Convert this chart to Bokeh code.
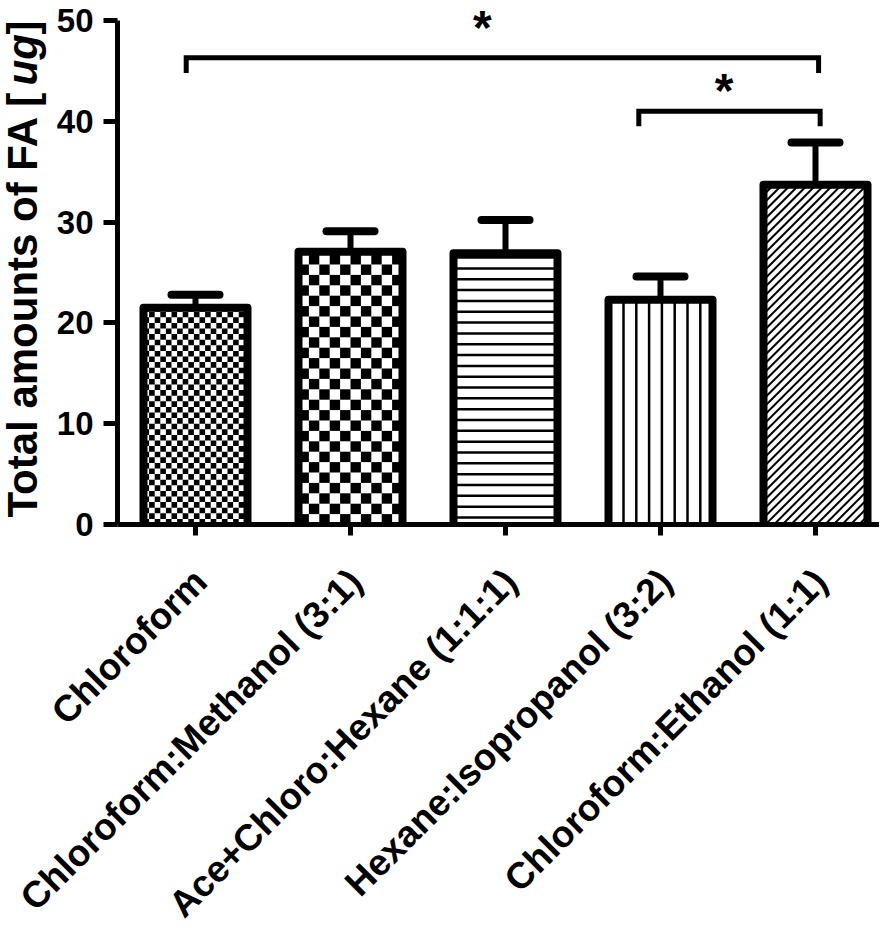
import math
from math import pi
from bokeh.plotting import figure
from bokeh.models import Range1d, FixedTicker
from bokeh.core.properties import value
from bokeh.embed import file_html
from bokeh.resources import INLINE

# ---------------- data ----------------
categories = [
    "Chloroform",
    "Chloroform:Methanol (3:1)",
    "Ace+Chloro:Hexane (1:1:1)",
    "Hexane:Isopropanol (3:2)",
    "Chloroform:Ethanol (1:1)",
]
means = [21.5, 27.05, 26.9, 22.3, 33.7]
errors = [1.3, 2.05, 3.3, 2.3, 4.2]
y_ticks = [0, 10, 20, 30, 40, 50]
y_title_parts = ["Total amounts of FA [", "ug", "]"]

# significance brackets: (bar a, bar b, bracket level, end of the drop)
comp_a = [0, 3]
comp_b = [4, 4]
comp_level = [46.3, 41.0]
comp_drop = [44.8, 39.5]
star_x = [1.85, 3.41]
star_y = [51.9, 45.7]

# ---------------- layout ----------------
W, H = 879, 931
FONT = "Liberation Sans"
X0_PX, DX_PX = 195.0, 155.0          # pixel of x=0, pixels per category
Y0_PX, Y50_PX = 524.0, 20.0           # pixel rows of y=0 and y=50
PX_Y = (Y0_PX - Y50_PX) / 50.0
XR = (-X0_PX / DX_PX, (W - X0_PX) / DX_PX)
YR = ((Y0_PX - H) / PX_Y, Y0_PX / PX_Y)
AXIS_X = (117 - X0_PX) / DX_PX        # where the y axis stands
BAR_PX = 104
BAR_W = BAR_PX / DX_PX

p = figure(width=W, height=H, output_backend="svg", toolbar_location=None,
           x_range=Range1d(*XR), y_range=Range1d(*YR), min_border=0)
p.grid.visible = False
p.outline_line_color = None
p.background_fill_color = "white"
p.border_fill_color = "white"

idx = list(range(len(categories)))

# white bar bodies
p.vbar(x=idx, top=means, bottom=0, width=BAR_W, fill_color="white", line_color=None)


def to_x(i, u):
    return i - BAR_W / 2 + u / DX_PX


def to_y(v):
    return v / PX_Y


# checker patterns (bars 0 and 1)
ql, qr, qb, qt = [], [], [], []
for i, cell in [(0, 5.6), (1, 10.4)]:
    h_px = means[i] * PX_Y
    nx = math.ceil(BAR_PX / cell)
    ny = math.ceil(h_px / cell)
    for r in range(ny):
        for c in range(nx):
            if (r + c) % 2 == 0:
                u0, u1 = c * cell, min((c + 1) * cell, BAR_PX)
                v0, v1 = r * cell, min((r + 1) * cell, h_px)
                ql.append(to_x(i, u0)); qr.append(to_x(i, u1))
                qb.append(to_y(v0)); qt.append(to_y(v1))
p.quad(left=ql, right=qr, bottom=qb, top=qt, fill_color="black", line_color=None)

# horizontal lines (bar 2)
sx0, sy0, sx1, sy1 = [], [], [], []
i = 2
h_px = means[i] * PX_Y
v = 7.0
while v < h_px:
    sx0.append(to_x(i, 0)); sx1.append(to_x(i, BAR_PX))
    sy0.append(to_y(v)); sy1.append(to_y(v))
    v += 10.83
p.segment(x0=sx0, y0=sy0, x1=sx1, y1=sy1, line_color="black", line_width=2.5)

# vertical lines (bar 3)
vx0, vy0, vx1, vy1 = [], [], [], []
i = 3
u = 15.0
while u < BAR_PX:
    vx0.append(to_x(i, u)); vx1.append(to_x(i, u))
    vy0.append(0); vy1.append(means[i])
    u += 12.8
p.segment(x0=vx0, y0=vy0, x1=vx1, y1=vy1, line_color="black", line_width=2.5)

# diagonal lines (bar 4)
dx0, dy0, dx1, dy1 = [], [], [], []
i = 4
h_px = means[i] * PX_Y
c = -BAR_PX
while c < h_px:
    u0 = max(0.0, -c)
    u1 = min(float(BAR_PX), h_px - c)
    if u1 > u0:
        dx0.append(to_x(i, u0)); dy0.append(to_y(u0 + c))
        dx1.append(to_x(i, u1)); dy1.append(to_y(u1 + c))
    c += 8.5
p.segment(x0=dx0, y0=dy0, x1=dx1, y1=dy1, line_color="black", line_width=2)

# bar outlines (three sides, the base sits on the axis)
oxs = [[k - BAR_W / 2, k - BAR_W / 2, k + BAR_W / 2, k + BAR_W / 2] for k in idx]
oys = [[0, m, m, 0] for m in means]
p.multi_line(xs=oxs, ys=oys, line_color="black", line_width=8, line_join="round")

# error bars (upper only)
tops = [m + e for m, e in zip(means, errors)]
p.segment(x0=idx, y0=means, x1=idx, y1=tops, line_color="black", line_width=6)
CAP = 24 / DX_PX
p.segment(x0=[k - CAP for k in idx], y0=tops, x1=[k + CAP for k in idx], y1=tops,
          line_color="black", line_width=8, line_cap="round")

# significance brackets
offs_a = [-0.06, -0.14]
offs_b = [0.02, 0.03]
bxs, bys = [], []
for a, b, lv, dr, oa, ob in zip(comp_a, comp_b, comp_level, comp_drop, offs_a, offs_b):
    bxs.append([a + oa, a + oa, b + ob, b + ob])
    bys.append([dr, lv, lv, dr])
p.multi_line(xs=bxs, ys=bys, line_color="black", line_width=5, line_join="miter")
p.text(x=star_x, y=star_y, text=["*", "*"], text_font=value(FONT),
       text_font_style="bold", text_font_size="48px", text_align="center",
       text_baseline="top", text_color="black")

# axes (placed inside the frame at fixed positions)
for ax in (p.xaxis, p.yaxis):
    ax.axis_line_width = 5
    ax.axis_line_color = "black"
    ax.major_tick_line_width = 5
    ax.major_tick_line_color = "black"
    ax.major_tick_in = 0
    ax.minor_tick_out = 0
    ax.minor_tick_in = 0
    ax.major_label_text_font = FONT
    ax.major_label_text_font_style = "bold"
    ax.major_label_text_color = "black"

p.xaxis.fixed_location = 0
p.xaxis.bounds = (AXIS_X, XR[1])
p.xaxis.ticker = FixedTicker(ticks=idx)
p.xaxis.major_label_overrides = {k: "" for k in idx}
p.xaxis.major_tick_out = 11

p.yaxis.fixed_location = AXIS_X
p.yaxis.bounds = (0, 50)
p.yaxis.ticker = FixedTicker(ticks=y_ticks)
p.yaxis.major_label_text_font_size = "33px"
p.yaxis.major_tick_out = 14
p.yaxis.major_label_standoff = 10

# rotated category labels
p.text(x=idx, y=[0] * len(idx), text=categories, angle=pi / 4,
       x_offset=5, y_offset=51, text_align="right", text_baseline="alphabetic",
       text_font=value(FONT), text_font_style="bold", text_font_size="37px",
       text_color="black")

# y axis title (with italic unit)
tx = (22 - X0_PX) / DX_PX
seg_px = [0, 432, 51]
styles = ["bold", "bold italic", "bold"]
ystart = 7
acc = 0
for part, w, st in zip(y_title_parts, seg_px, styles):
    acc += w
    p.text(x=[tx], y=[to_y(ystart + acc)], text=[part], angle=pi / 2,
           text_font=value(FONT), text_font_style=st, text_font_size="42px",
           text_align="left", text_baseline="alphabetic", text_color="black")

open("out.html", "w").write(file_html(p, INLINE))
